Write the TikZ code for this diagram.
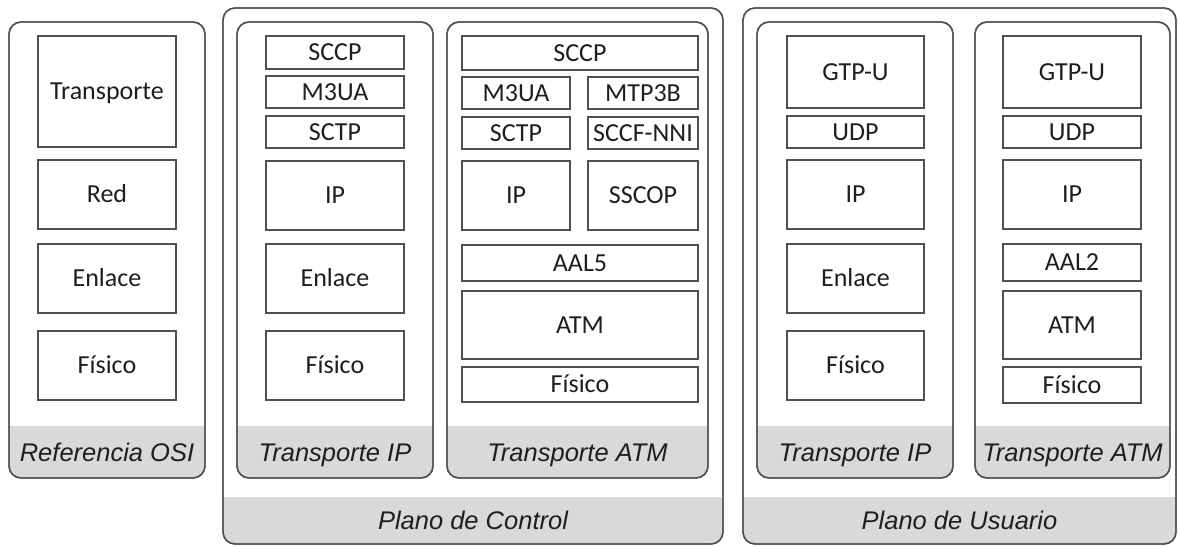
\documentclass[tikz,border=0pt]{standalone}
\usepackage{fontspec}
\setmainfont{Carlito}
\newfontfamily\capfont{Liberation Sans}
\definecolor{edge}{HTML}{505050}
\definecolor{band}{HTML}{D9D9D9}
\definecolor{ink}{HTML}{1E1E1E}
\tikzset{
  frame/.style={draw=edge, line width=1.4pt, rounded corners=12pt, fill=white,
    inner sep=0pt, outer sep=0pt},
  layer/.style={draw=edge, line width=1.4pt, fill=white, inner sep=0pt, outer sep=0pt,
    font=\fontsize{26}{30}\selectfont, text=ink, text height=16.5pt, text depth=0pt},
  caption/.style={font=\capfont\itshape\fontsize{25.5}{30}\selectfont, text=ink,
    inner sep=0pt, text height=18pt, text depth=0pt},
}
% \stackframe{name}{x1}{y1}{x2}{y2}{top of grey band}{caption}
\newcommand\stackframe[7]{%
  \node[frame, minimum width={(#4-#2)*1pt}, minimum height={(#5-#3)*1pt},
    path picture={\fill[band, sharp corners]
      ([yshift={(#5-#6)*1pt}]path picture bounding box.south west)
      rectangle (path picture bounding box.south east);}]
    (#1) at ({(#2+#4)/2},{(#3+#5)/2}) {};
  \node[frame, fill=none, minimum width={(#4-#2)*1pt}, minimum height={(#5-#3)*1pt}]
    (#1-rim) at (#1.center) {};
  \node[caption] (#1-cap) at ({(#2+#4)/2},{(#6+#5)/2}) {#7};
}
% \stacklayer{name}{x1}{y1}{x2}{y2}{text}
\newcommand\stacklayer[6]{%
  \node[layer, minimum width={(#4-#2)*1pt}, minimum height={(#5-#3)*1pt}]
    (#1) at ({(#2+#4)/2},{(#3+#5)/2}) {#6};
}
\begin{document}
\begin{tikzpicture}[x=1pt, y=-1pt]
\useasboundingbox (0,0) rectangle (1178,546);

% OSI reference
\stackframe{osi}{9}{22}{205}{478}{426}{Referencia OSI}
\stacklayer{osi4}{38}{36}{176}{147}{Transporte}
\stacklayer{osi3}{38}{160}{176}{229}{Red}
\stacklayer{osi2}{38}{244}{176}{313}{Enlace}
\stacklayer{osi1}{38}{331}{176}{400}{Físico}

% Control plane
\stackframe{cp}{223}{8}{723}{544}{497}{Plano de Control}
\stackframe{cpip}{237}{22}{433}{478}{426}{Transporte IP}
\stacklayer{cpipSccp}{266}{36}{404}{69}{SCCP}
\stacklayer{cpipM3ua}{266}{76}{404}{108}{M3UA}
\stacklayer{cpipSctp}{266}{116}{404}{148}{SCTP}
\stacklayer{cpipIp}{266}{161}{404}{230}{IP}
\stacklayer{cpipLink}{266}{244}{404}{313}{Enlace}
\stacklayer{cpipPhy}{266}{331}{404}{400}{Físico}

\stackframe{cpatm}{447}{22}{708}{478}{426}{Transporte ATM}
\stacklayer{cpatmSccp}{462}{36}{698}{70}{SCCP}
\stacklayer{cpatmM3ua}{462}{77}{570}{109}{M3UA}
\stacklayer{cpatmMtp}{588}{77}{698}{109}{MTP3B}
\stacklayer{cpatmSctp}{462}{117}{570}{149}{SCTP}
\stacklayer{cpatmSccf}{588}{117}{698}{149}{SCCF-NNI}
\stacklayer{cpatmIp}{462}{161}{570}{230}{IP}
\stacklayer{cpatmSscop}{588}{161}{698}{230}{SSCOP}
\stacklayer{cpatmAal}{462}{245}{698}{281}{AAL5}
\stacklayer{cpatmAtm}{462}{291}{698}{359}{ATM}
\stacklayer{cpatmPhy}{462}{367}{698}{402}{Físico}

% User plane
\stackframe{up}{743}{8}{1176}{544}{497}{Plano de Usuario}
\stackframe{upip}{757}{22}{953}{478}{426}{Transporte IP}
\stacklayer{upipGtp}{787}{36}{924}{108}{GTP-U}
\stacklayer{upipUdp}{787}{116}{924}{148}{UDP}
\stacklayer{upipIp}{787}{160}{924}{229}{IP}
\stacklayer{upipLink}{787}{244}{924}{313}{Enlace}
\stacklayer{upipPhy}{787}{331}{924}{400}{Físico}

\stackframe{upatm}{975}{22}{1170}{478}{426}{Transporte ATM}
\stacklayer{upatmGtp}{1003}{36}{1141}{108}{GTP-U}
\stacklayer{upatmUdp}{1003}{116}{1141}{148}{UDP}
\stacklayer{upatmIp}{1003}{160}{1141}{229}{IP}
\stacklayer{upatmAal}{1003}{244}{1141}{281}{AAL2}
\stacklayer{upatmAtm}{1003}{291}{1141}{359}{ATM}
\stacklayer{upatmPhy}{1003}{367}{1141}{403}{Físico}
\end{tikzpicture}
\end{document}
